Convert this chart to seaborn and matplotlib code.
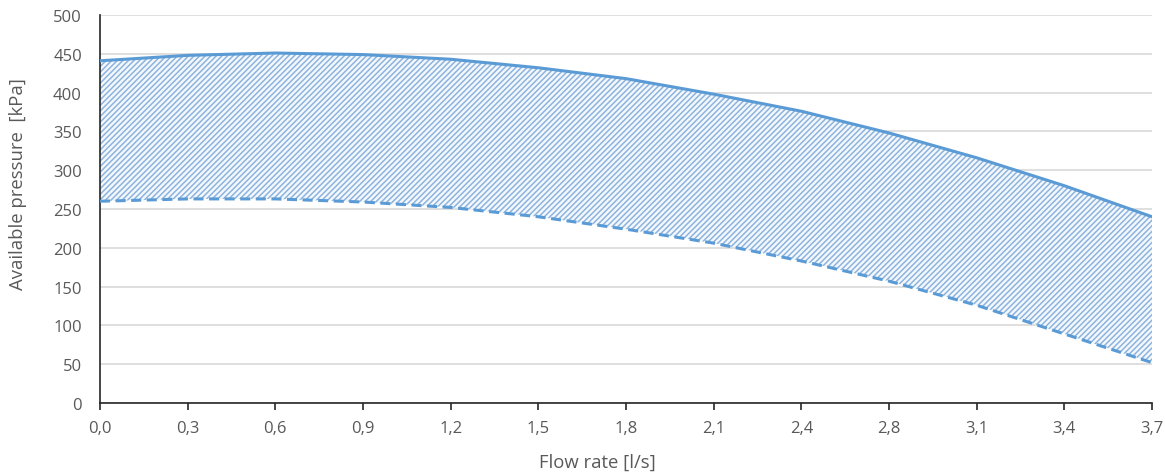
import matplotlib
matplotlib.use("Agg")
import matplotlib.pyplot as plt
import seaborn as sns
import numpy as np
import pandas as pd

flow_labels = ["0,0", "0,3", "0,6", "0,9", "1,2", "1,5", "1,8", "2,1", "2,4", "2,8", "3,1", "3,4", "3,7"]
upper_kpa = [441, 448, 451, 449, 443, 432, 418, 398, 376, 348, 316, 280, 240]
lower_kpa = [260, 263, 263, 259, 252, 240, 224, 206, 183, 157, 126, 89, 52]
y_ticks = [0, 50, 100, 150, 200, 250, 300, 350, 400, 450, 500]

sns.set_theme(style="white")
plt.rcParams['font.family'] = ['Open Sans', 'DejaVu Sans']
plt.rcParams['hatch.linewidth'] = 1.1
plt.rcParams['hatch.color'] = '#8CB4DE'

blue = '#5B9BD5'
txt = '#595959'

df = pd.DataFrame({"flow": flow_labels, "upper": upper_kpa, "lower": lower_kpa})
pos = np.arange(len(flow_labels))

fig = plt.figure(figsize=(11.65, 4.77), dpi=100)
ax = fig.add_axes([100/1165, 1 - 404/477, (1152-100)/1165, (404-16)/477])

ax.fill_between(pos, df["lower"], df["upper"], facecolor='#F4F8FC', hatch='//////',
                edgecolor='#8CB4DE', linewidth=0, zorder=2)
sns.lineplot(data=df, x="flow", y="upper", ax=ax, color=blue, linewidth=2.2, sort=False, zorder=3)
sns.lineplot(data=df, x="flow", y="lower", ax=ax, color=blue, linewidth=2.2, sort=False, zorder=3,
             linestyle=(0, (3.3, 1.8)))

ax.set_xlim(0, len(flow_labels) - 1)
ax.set_ylim(0, 500)
ax.set_yticks(y_ticks)
ax.set_xticks(pos)
ax.set_xticklabels(flow_labels)
ax.yaxis.grid(True, color='#D9D9D9', linewidth=1.2, zorder=0)
ax.set_axisbelow(True)
for s in ["top", "right"]:
    ax.spines[s].set_visible(False)
for s in ["left", "bottom"]:
    ax.spines[s].set_color('#262626')
    ax.spines[s].set_linewidth(1.2)
ax.tick_params(axis='x', direction='out', length=5, width=1.2, color='#262626', labelsize=12,
               labelcolor=txt, pad=7, bottom=True)
ax.tick_params(axis='y', length=0, labelsize=12, labelcolor=txt, pad=13)
ax.set_xlabel("Flow rate [l/s]", fontsize=13.3, color=txt, labelpad=12, x=(597-100)/1052)
ax.set_ylabel("Available pressure  [kPa]", fontsize=13.3, color=txt, labelpad=19, y=(404-184)/388)

fig.savefig("out.png", dpi=100)
